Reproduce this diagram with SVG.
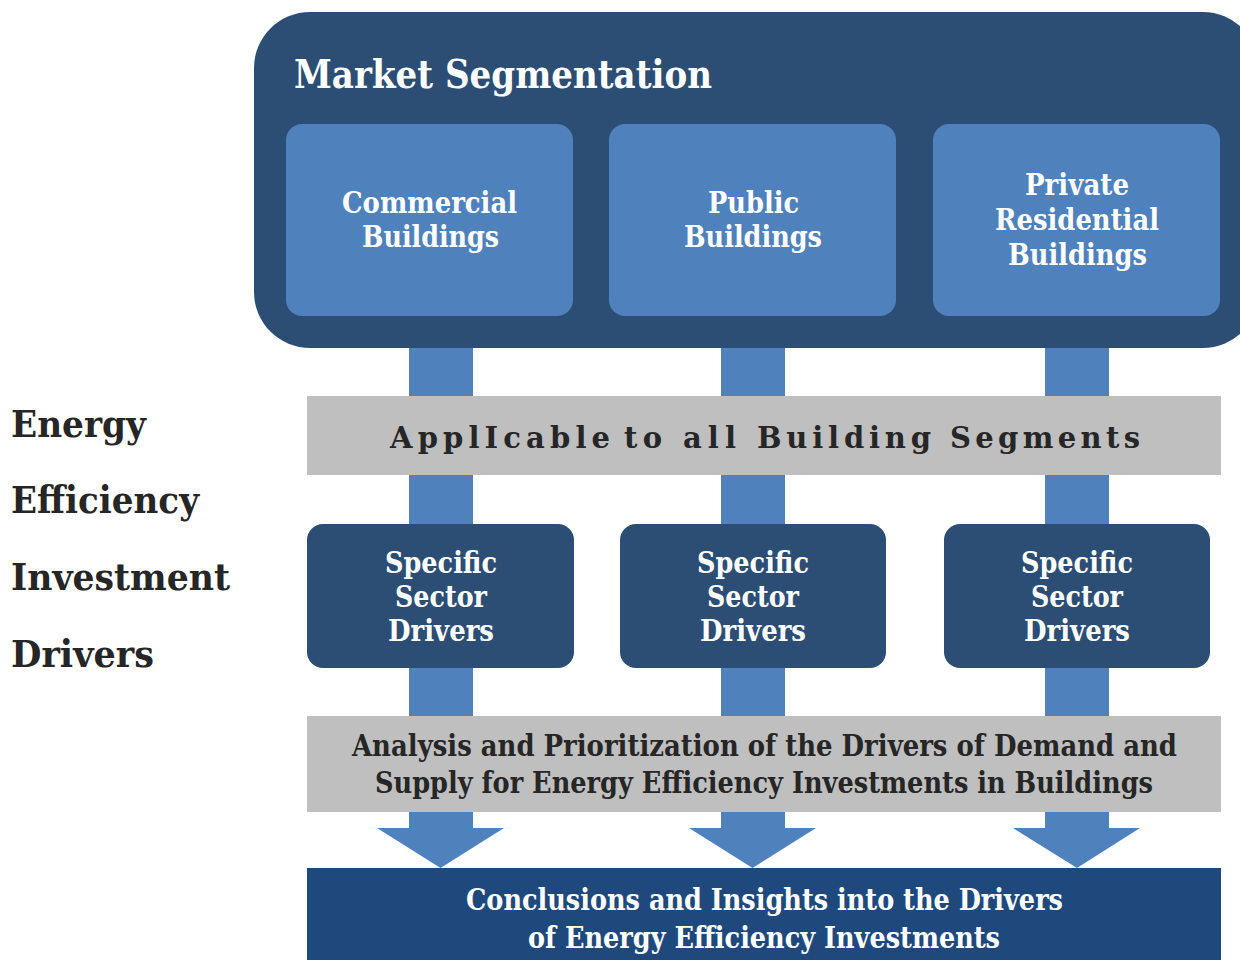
<svg xmlns="http://www.w3.org/2000/svg" width="1240" height="960" viewBox="0 0 1240 960">
  <style>
    .navy { fill: #2C4E74; }
    .seg { fill: #4F81BD; }
    .band { fill: #BFBFBF; }
    .flow { fill: #4F81BD; }
    .t { font-family: "DejaVu Serif", "Liberation Serif", serif; font-weight: bold; }
    .w { fill: #FFFFFF; }
    .d { fill: #262626; }
  </style>
  <rect width="1240" height="960" fill="#FFFFFF"/>

  <!-- vertical flow arrows behind all boxes -->
  <g id="connectors">
    <rect class="flow" x="409" y="330" width="64" height="499"/>
    <rect class="flow" x="721" y="330" width="64" height="499"/>
    <rect class="flow" x="1045" y="330" width="64" height="499"/>
    <polygon class="flow" points="377,828 504,828 440.5,868"/>
    <polygon class="flow" points="689,828 816,828 752.5,868"/>
    <polygon class="flow" points="1013,828 1140,828 1077,868"/>
  </g>

  <!-- side caption -->
  <g id="side-title" class="t d">
    <text x="11" y="437" font-size="38" textLength="135" lengthAdjust="spacingAndGlyphs">Energy</text>
    <text x="11" y="513" font-size="38" textLength="188" lengthAdjust="spacingAndGlyphs">Efficiency</text>
    <text x="11" y="590" font-size="38" textLength="219" lengthAdjust="spacingAndGlyphs">Investment</text>
    <text x="11" y="667" font-size="38" textLength="143" lengthAdjust="spacingAndGlyphs">Drivers</text>
  </g>

  <!-- segmentation container -->
  <g id="market-segmentation">
    <rect class="navy" x="254" y="12" width="1005" height="336" rx="56" ry="56"/>
    <text class="t w" x="294" y="88" font-size="40" textLength="418" lengthAdjust="spacingAndGlyphs">Market Segmentation</text>
  </g>

  <g id="commercial">
    <rect class="seg" x="286" y="124" width="287" height="192" rx="16"/>
    <text class="t w" font-size="29">
      <tspan x="342" y="213" textLength="175" lengthAdjust="spacingAndGlyphs">Commercial</tspan>
      <tspan x="362" y="247" textLength="137" lengthAdjust="spacingAndGlyphs">Buildings</tspan>
    </text>
  </g>

  <g id="public">
    <rect class="seg" x="609" y="124" width="287" height="192" rx="16"/>
    <text class="t w" font-size="29">
      <tspan x="708" y="213" textLength="91" lengthAdjust="spacingAndGlyphs">Public</tspan>
      <tspan x="684" y="247" textLength="138" lengthAdjust="spacingAndGlyphs">Buildings</tspan>
    </text>
  </g>

  <g id="private-residential">
    <rect class="seg" x="933" y="124" width="287" height="192" rx="16"/>
    <text class="t w" font-size="29">
      <tspan x="1025" y="195" textLength="104" lengthAdjust="spacingAndGlyphs">Private</tspan>
      <tspan x="995" y="230" textLength="164" lengthAdjust="spacingAndGlyphs">Residential</tspan>
      <tspan x="1008" y="265" textLength="139" lengthAdjust="spacingAndGlyphs">Buildings</tspan>
    </text>
  </g>

  <g id="all-segments">
    <rect class="band" x="307" y="396" width="914" height="79"/>
    <text class="t d" font-size="29">
      <tspan x="390" y="448" textLength="220" lengthAdjust="spacing">ApplIcable</tspan>
      <tspan x="624" y="448" textLength="38" lengthAdjust="spacing">to</tspan>
      <tspan x="683" y="448" textLength="53" lengthAdjust="spacing">all</tspan>
      <tspan x="757" y="448" textLength="174" lengthAdjust="spacing">Building</tspan>
      <tspan x="950" y="448" textLength="190" lengthAdjust="spacing">Segments</tspan>
    </text>
  </g>

  <g id="drivers-commercial">
    <rect class="navy" x="307" y="524" width="267" height="144" rx="16"/>
    <text class="t w" font-size="30">
      <tspan x="385" y="573" textLength="112" lengthAdjust="spacingAndGlyphs">Specific</tspan>
      <tspan x="395" y="607" textLength="92" lengthAdjust="spacingAndGlyphs">Sector</tspan>
      <tspan x="388" y="641" textLength="106" lengthAdjust="spacingAndGlyphs">Drivers</tspan>
    </text>
  </g>

  <g id="drivers-public">
    <rect class="navy" x="620" y="524" width="266" height="144" rx="16"/>
    <text class="t w" font-size="30">
      <tspan x="697" y="573" textLength="112" lengthAdjust="spacingAndGlyphs">Specific</tspan>
      <tspan x="707" y="607" textLength="92" lengthAdjust="spacingAndGlyphs">Sector</tspan>
      <tspan x="700" y="641" textLength="106" lengthAdjust="spacingAndGlyphs">Drivers</tspan>
    </text>
  </g>

  <g id="drivers-private">
    <rect class="navy" x="944" y="524" width="266" height="144" rx="16"/>
    <text class="t w" font-size="30">
      <tspan x="1021" y="573" textLength="112" lengthAdjust="spacingAndGlyphs">Specific</tspan>
      <tspan x="1031" y="607" textLength="92" lengthAdjust="spacingAndGlyphs">Sector</tspan>
      <tspan x="1024" y="641" textLength="106" lengthAdjust="spacingAndGlyphs">Drivers</tspan>
    </text>
  </g>

  <g id="analysis">
    <rect class="band" x="307" y="716" width="914" height="96"/>
    <text class="t d" font-size="29">
      <tspan x="352" y="756" textLength="825" lengthAdjust="spacingAndGlyphs">Analysis and Prioritization of the Drivers of Demand and</tspan>
      <tspan x="375" y="793" textLength="778" lengthAdjust="spacingAndGlyphs">Supply for Energy Efficiency Investments in Buildings</tspan>
    </text>
  </g>

  <g id="conclusions">
    <rect x="307" y="868" width="914" height="92" fill="#1F497D"/>
    <text class="t w" font-size="30">
      <tspan x="466" y="910" textLength="597" lengthAdjust="spacingAndGlyphs">Conclusions and Insights into the Drivers</tspan>
      <tspan x="528" y="948" textLength="472" lengthAdjust="spacingAndGlyphs">of Energy Efficiency Investments</tspan>
    </text>
  </g>
</svg>
